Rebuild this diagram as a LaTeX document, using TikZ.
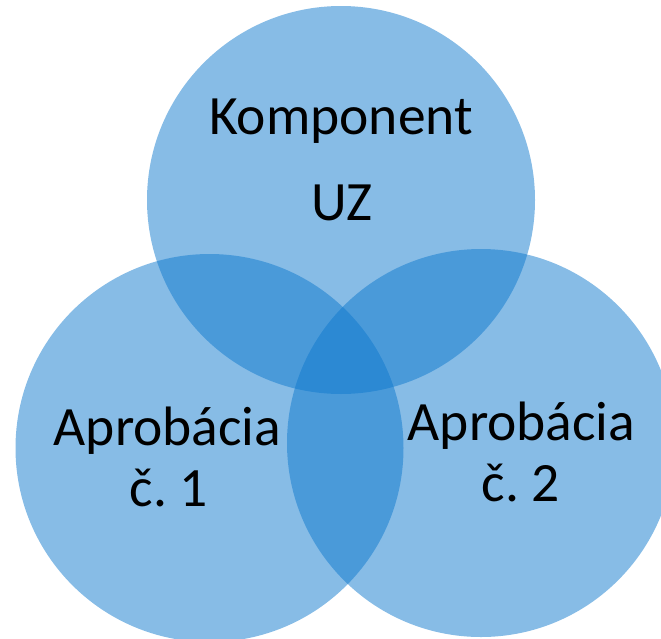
\documentclass[tikz,border=0pt]{standalone}
\usepackage{fontspec}
\setmainfont{Carlito}
\frenchspacing
\definecolor{vblue}{RGB}{15,121,205}
\begin{document}
\begin{tikzpicture}[x=1pt,y=-1pt,
  setcircle/.style={circle,draw=none,fill=vblue,fill opacity=0.5,minimum size=388pt,inner sep=0pt},
  label/.style={anchor=base,font=\fontsize{55.5}{60}\selectfont,text=black,inner sep=0pt}]
\useasboundingbox (0,0) rectangle (661,638);
\clip (0,0) rectangle (661,638);
\node[setcircle] (top) at (341,200) {};
\node[setcircle] (left) at (209.5,448) {};
\node[setcircle] (right) at (481,443) {};
\node[label] (t1) at (341,134) {Komponent};
\node[label] (t2) at (342,220) {UZ};
\node[label] (l1) at (167.5,445) {Aprobácia};
\node[label] (l2) at (169,506) {č. 1};
\node[label] (r1) at (521.5,440) {Aprobácia};
\node[label] (r2) at (521,501) {č. 2};
\end{tikzpicture}
\end{document}
